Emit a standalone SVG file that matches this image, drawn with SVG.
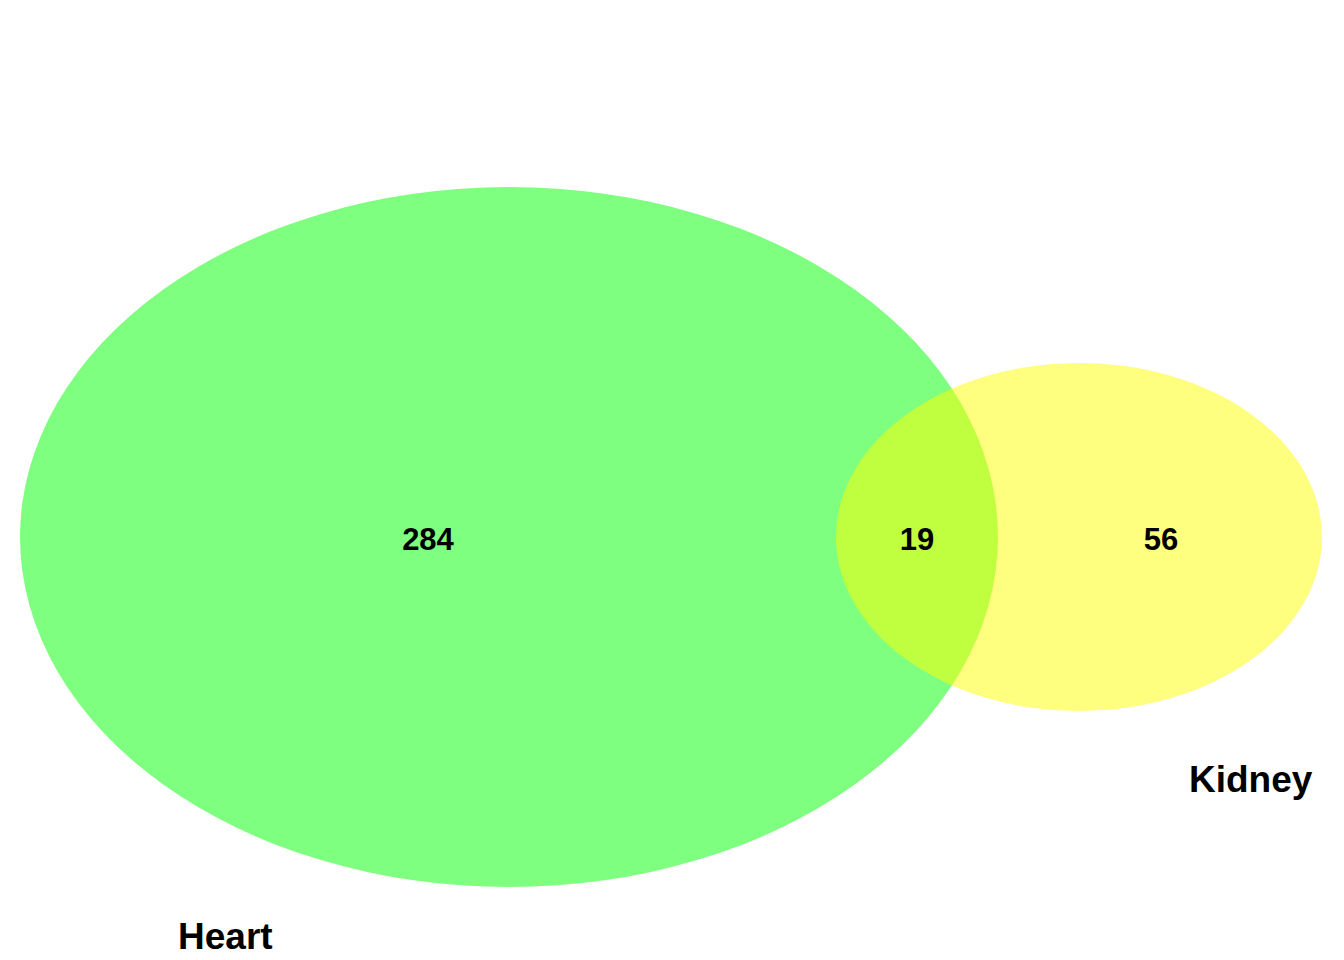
<svg xmlns="http://www.w3.org/2000/svg" width="1344" height="960" viewBox="0 0 1344 960">
<style>
.num{font-family:"Liberation Sans",Arial,sans-serif;font-weight:bold;font-size:31px;fill:#000;text-anchor:middle}
.lbl{font-family:"Liberation Sans",Arial,sans-serif;font-weight:bold;font-size:37px;fill:#000}
</style>
<rect width="1344" height="960" fill="#fff"/>
<g id="heart">
<ellipse cx="509" cy="537" rx="489" ry="350" fill="#00ff00" fill-opacity="0.5"/>
</g>
<g id="kidney">
<ellipse cx="1079" cy="537" rx="243" ry="174" fill="#ffff00" fill-opacity="0.5"/>
</g>
<g id="counts">
<text class="num" x="428" y="550">284</text>
<text class="num" x="917" y="550">19</text>
<text class="num" x="1161" y="550">56</text>
</g>
<g id="labels">
<text class="lbl" x="178" y="949">Heart</text>
<text class="lbl" x="1189" y="792">Kidney</text>
</g>
</svg>
